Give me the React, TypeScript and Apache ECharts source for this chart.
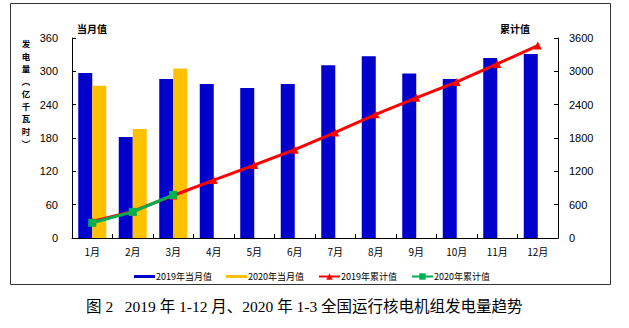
import React, { useEffect, useRef } from "react";
import * as echarts from "echarts";

const months = ["1月", "2月", "3月", "4月", "5月", "6月", "7月", "8月", "9月", "10月", "11月", "12月"];
const monthly2019 = [297, 182, 286, 277, 270, 277, 311, 327, 296, 286, 324, 331];
const monthly2020 = [274, 196, 305];
const cumulative2019 = [297, 479, 765, 1042, 1312, 1589, 1900, 2227, 2523, 2809, 3133, 3464];
const cumulative2020 = [274, 470, 775];
const leftTicks = { min: 0, max: 360, interval: 60 };
const rightTicks = { min: 0, max: 3600, interval: 600 };
const yAxisTitleChars = ["发", "电", "量", "︵", "亿", "千", "瓦", "时", "︶"];

const CJK = '"Noto Sans CJK SC", "Liberation Sans", sans-serif';
const LAT = '"Liberation Sans", Arial, "Noto Sans CJK SC", sans-serif';

export default function App() {
  const ref = useRef<HTMLDivElement>(null);
  useEffect(() => {
    if (!ref.current) return;
    const chart = echarts.init(ref.current, undefined, { renderer: "svg" });
    const axisLine = { show: true, lineStyle: { color: "#000", width: 1 } };
    const tick = { show: true, inside: true, length: 4, lineStyle: { color: "#000" } };
    chart.setOption({
      animation: false,
      backgroundColor: "#fff",
      grid: { left: 72, right: 71, top: 38, bottom: 90 },
      legend: {
        left: 129,
        top: 267,
        itemGap: 14,
        itemWidth: 21,
        itemHeight: 8,
        textStyle: { fontSize: 9, color: "#000", fontFamily: CJK, padding: [0, 0, 0, -4] },
        data: [
          { name: "2019年当月值", icon: "path://M0 0H21V3H0Z" },
          { name: "2020年当月值", icon: "path://M0 0H21V3H0Z" },
          { name: "2019年累计值" },
          { name: "2020年累计值" },
        ],
      },
      xAxis: {
        type: "category",
        data: months,
        axisLine,
        axisTick: tick,
        axisLabel: { fontSize: 10, color: "#000", fontFamily: CJK, margin: 8 },
      },
      yAxis: [
        {
          type: "value",
          ...leftTicks,
          axisLine,
          axisTick: tick,
          axisLabel: { fontSize: 11, color: "#000", fontFamily: LAT, margin: 14 },
          splitLine: { show: false },
        },
        {
          type: "value",
          ...rightTicks,
          position: "right",
          axisLine,
          axisTick: tick,
          axisLabel: {
            fontSize: 11,
            color: "#000",
            fontFamily: LAT,
            margin: 11,
            formatter: (v: number) => String(v),
          },
          splitLine: { show: false },
        },
      ],
      series: [
        {
          name: "2019年当月值",
          type: "bar",
          data: monthly2019,
          barWidth: 14,
          barGap: "0%",
          itemStyle: { color: "#0000CC" },
        },
        {
          name: "2020年当月值",
          type: "bar",
          data: monthly2020,
          barWidth: 14,
          barGap: "0%",
          itemStyle: { color: "#FFC000" },
        },
        {
          name: "2019年累计值",
          type: "line",
          yAxisIndex: 1,
          data: cumulative2019,
          symbol: "triangle",
          symbolSize: 8,
          lineStyle: { color: "#FF0000", width: 3 },
          itemStyle: { color: "#FF0000" },
          z: 3,
        },
        {
          name: "2020年累计值",
          type: "line",
          yAxisIndex: 1,
          data: cumulative2020,
          symbol: "rect",
          symbolSize: 8,
          lineStyle: { color: "#00B050", width: 3 },
          itemStyle: { color: "#00B050" },
          z: 4,
        },
      ],
      graphic: [
        {
          type: "rect",
          shape: { x: 10.5, y: 3.5, width: 600, height: 281 },
          style: { fill: "none", stroke: "#333", lineWidth: 1 },
          silent: true,
        },
        {
          type: "text",
          x: 77,
          y: 28,
          style: { text: "当月值", font: `bold 10px ${CJK}`, fill: "#000", verticalAlign: "middle" },
        },
        {
          type: "text",
          x: 500,
          y: 28,
          style: { text: "累计值", font: `bold 10px ${CJK}`, fill: "#000", verticalAlign: "middle" },
        },
        ...yAxisTitleChars.map((ch, i) => ({
          type: "text",
          x: 26,
          y: 43 + i * 12.5,
          style: {
            text: ch,
            font: `bold 8.5px ${CJK}`,
            fill: "#000",
            align: "center",
            verticalAlign: "middle",
          },
        })),
        {
          type: "text",
          x: 86,
          y: 306,
          style: {
            text: "图 2   2019 年 1-12 月、2020 年 1-3 全国运行核电机组发电量趋势",
            font: `15.5px "Liberation Serif", "Noto Sans CJK SC", serif`,
            fill: "#000",
            verticalAlign: "middle",
          },
        },
      ],
    });
    return () => chart.dispose();
  }, []);
  return (
    <div
      ref={ref}
      style={{ position: "fixed", left: 0, top: 0, width: 629, height: 328, background: "#fff" }}
    />
  );
}
